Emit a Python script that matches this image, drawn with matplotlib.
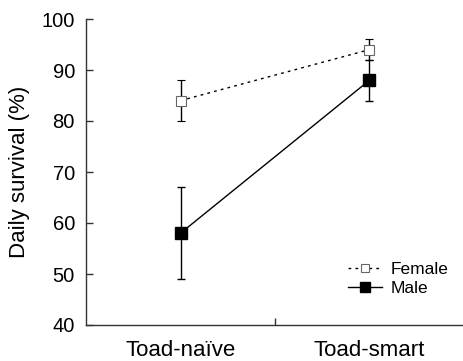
import matplotlib
matplotlib.use("Agg")
import matplotlib.pyplot as plt

categories = ["Toad-naïve", "Toad-smart"]
female = [84, 94]
female_err = [4, 2]
male = [58, 88]
male_err = [9, 4]

plt.rcParams['font.family'] = ['Liberation Sans', 'DejaVu Sans']

fig = plt.figure(figsize=(4.64, 3.61), dpi=100)
ax = fig.add_axes([86/464, 1 - 325/361, 378/464, 306/361])

xpos = [0.5, 1.5]
ax.errorbar(xpos, female, yerr=female_err, color='black', linestyle=(0, (2, 3)), lw=1.0,
            marker='s', markersize=6.5, markerfacecolor='white', markeredgecolor='#666666',
            markeredgewidth=0.8, capsize=3, elinewidth=1.0, ecolor='black', label='Female', zorder=3)
ax.errorbar(xpos, male, yerr=male_err, color='black', linestyle='-', lw=1.0,
            marker='s', markersize=8.5, markerfacecolor='black', markeredgecolor='black',
            capsize=3, elinewidth=1.0, ecolor='black', label='Male', zorder=4)

ax.set_xlim(0, 2)
ax.set_ylim(40, 100)
ax.set_yticks([40, 50, 60, 70, 80, 90, 100])
ax.set_xticks([1])
ax.set_xticklabels([])
ax.set_xticks(xpos, minor=True)
ax.set_xticklabels(categories, minor=True, fontsize=16)
ax.tick_params(axis='x', which='minor', length=0, pad=11)
ax.tick_params(axis='x', which='major', direction='in', length=5, width=1, color='#333333')
ax.tick_params(axis='y', direction='in', length=5, width=1, color='#333333', labelsize=14.5, pad=8)
for s in ['top', 'right']:
    ax.spines[s].set_visible(False)
for s in ['left', 'bottom']:
    ax.spines[s].set_color('#333333')
    ax.spines[s].set_linewidth(1.0)
ax.set_ylabel("Daily survival (%)", fontsize=16, labelpad=8)

# legend without error bars in handles
from matplotlib.lines import Line2D
h_f = Line2D([], [], color='black', linestyle=(0, (2, 3)), lw=1.0, marker='s', markersize=6,
             markerfacecolor='white', markeredgecolor='#666666', markeredgewidth=0.8)
h_m = Line2D([], [], color='black', linestyle='-', lw=1.0, marker='s', markersize=7.5,
             markerfacecolor='black', markeredgecolor='black')
leg = ax.legend([h_f, h_m], ['Female', 'Male'], loc='lower right', frameon=False, fontsize=12.5,
                handlelength=2.0, bbox_to_anchor=((449 - 86) / 378, (325 - 296) / 306),
                borderpad=0, borderaxespad=0, handletextpad=0.5, labelspacing=0.2)

fig.savefig("out.png", dpi=100)
